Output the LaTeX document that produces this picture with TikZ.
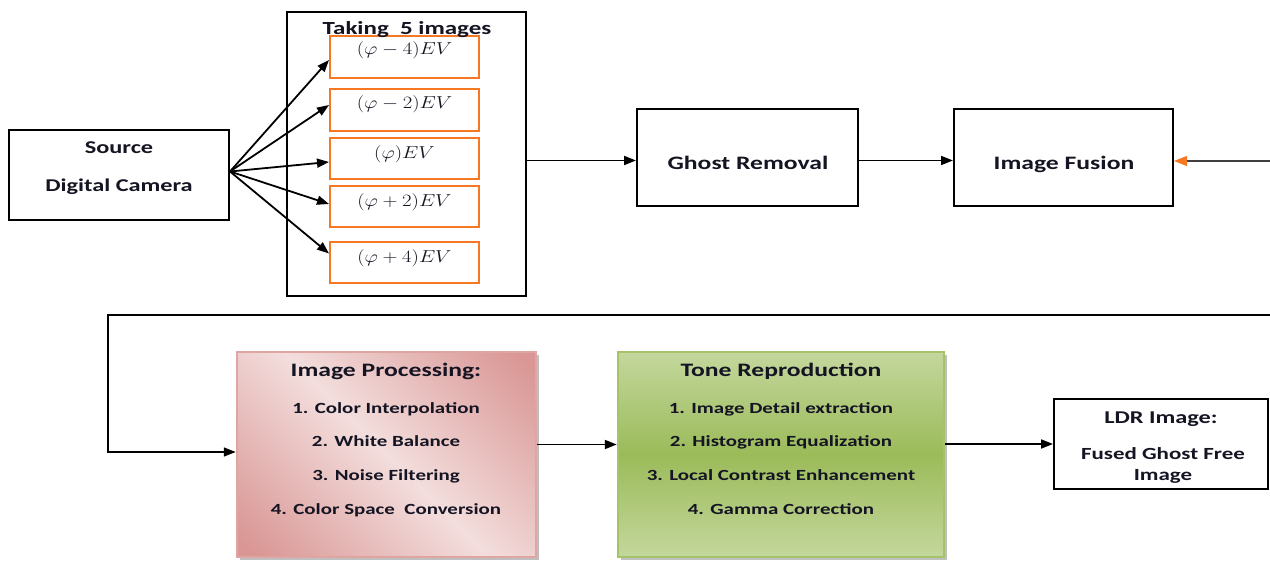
\documentclass[tikz,border=0pt]{standalone}
\usepackage{fontspec}
\usepackage{graphicx}
\newfontfamily\calfont[FakeStretch=1.35]{Carlito}
\usetikzlibrary{arrows.meta,calc}
\definecolor{orng}{RGB}{247,120,35}
\definecolor{pdark}{RGB}{217,150,148}
\definecolor{plight}{RGB}{243,222,221}
\definecolor{pborder}{RGB}{222,165,163}
\definecolor{gdark}{RGB}{155,187,89}
\definecolor{glight}{RGB}{196,215,157}
\definecolor{gborder}{RGB}{165,196,105}
\definecolor{txt}{RGB}{20,20,35}
\pgfdeclarehorizontalshading{pinkrefl}{100bp}{color(0bp)=(pdark); color(17bp)=(pdark); color(50bp)=(plight); color(83bp)=(pdark); color(100bp)=(pdark)}
\tikzset{
  blackbox/.style={draw=black, line width=2pt, fill=white, inner sep=0pt},
  orangebox/.style={draw=orng, line width=2pt, fill=white, inner sep=0pt, minimum width=149pt},
  lbl/.style={font=\calfont\bfseries, text=txt, inner sep=0pt, text height=0.68em, text depth=0.18em, yshift=-4pt},
  mlbl/.style={inner sep=0pt, text=txt, font=\fontsize{16}{18}\selectfont, yshift=-2pt},
  arr/.style={line width=1.8pt, -{Triangle[length=12pt,width=9pt]}},
}
\newcommand{\mth}[1]{\scalebox{1.2}[1]{$#1$}}
\begin{document}
\begin{tikzpicture}[x=1pt,y=-1pt]
\useasboundingbox (0,0) rectangle (1270,561);
% source
\node[blackbox, minimum width=220pt, minimum height=90pt] (src) at (119,175) {};
\node[lbl, font=\calfont\bfseries\fontsize{18}{22}\selectfont] (srct1) at (119,147) {Source};
\node[lbl, font=\calfont\bfseries\fontsize{18}{22}\selectfont] (srct2) at (119,185) {Digital Camera};
% taking box
\node[blackbox, minimum width=239pt, minimum height=284pt] (take) at (406.5,154) {};
% orange boxes
\node[orangebox, minimum height=42pt] (o1) at (404.5,57) {};
\node[orangebox, minimum height=42pt] (o2) at (404.5,110) {};
\node[orangebox, minimum height=41pt] (o3) at (404.5,158.5) {};
\node[orangebox, minimum height=41pt] (o4) at (404.5,206.5) {};
\node[orangebox, minimum height=41pt] (o5) at (404.5,262.5) {};
\node[lbl, font=\calfont\bfseries\fontsize{18.5}{22}\selectfont] (taket) at (407,28) {Taking\ \ 5 images};
\node[mlbl] (m1) at (404.5,48) {\mth{(\varphi-4)EV}};
\node[mlbl] (m2) at (404.5,102) {\mth{(\varphi-2)EV}};
\node[mlbl] (m3) at (404.5,152) {\mth{(\varphi)EV}};
\node[mlbl] (m4) at (404.5,200) {\mth{(\varphi+2)EV}};
\node[mlbl] (m5) at (404.5,256) {\mth{(\varphi+4)EV}};
% arrows from source
\coordinate (s0) at ($(src.east)+(0,3.5pt)$);
\draw[arr] (s0) -- ([yshift=-3pt]o1.west);
\draw[arr] (s0) -- ([yshift=5pt]o2.west);
\draw[arr] (s0) -- ([yshift=-3.5pt]o3.west);
\draw[arr] (s0) -- ([yshift=2.5pt]o4.west);
\draw[arr] (s0) -- ([yshift=9pt]o5.west);
% ghost removal, fusion
\node[blackbox, minimum width=221pt, minimum height=97pt] (ghost) at (747.5,157.5) {};
\node[lbl, font=\calfont\bfseries\fontsize{19}{22}\selectfont] (ghostt) at (748,163) {Ghost Removal};
\node[blackbox, minimum width=219pt, minimum height=97pt] (fus) at (1063.5,157.5) {};
\node[lbl, font=\calfont\bfseries\fontsize{19}{22}\selectfont] (fust) at (1064,163) {Image Fusion};
\draw[arr] ([yshift=-3pt]ghost.west -| take.east) -- ([yshift=-3pt]ghost.west);
\draw[arr] ([yshift=-3pt]ghost.east) -- ([yshift=-3pt]fus.west);
\coordinate (rin) at (1270,161);
\draw[line width=1.4pt, draw=black!75, -{Triangle[length=13pt,width=10pt,color=orng]}] (rin) -- ([yshift=-3.5pt]fus.east);
% return line
\coordinate (rret) at (1270,315);
\coordinate (lc) at (108,315);
% image processing
\fill[black!25] (240,355) rectangle (539,560);
\path[shading=pinkrefl, shading angle=45] (237,352) rectangle (536,557);
\node[draw=pborder, line width=2.5pt, minimum width=299pt, minimum height=205pt, inner sep=0pt] (ip) at (386.5,454.5) {};
\node[lbl, font=\calfont\bfseries\fontsize{19}{22}\selectfont] (ipt) at (386,370) {Image Processing:};
\node[lbl, font=\calfont\bfseries\fontsize{15.5}{18}\selectfont] (ip1) at (386,407) {1. Color Interpolation};
\node[lbl, font=\calfont\bfseries\fontsize{15.5}{18}\selectfont] (ip2) at (386,440) {2. White Balance};
\node[lbl, font=\calfont\bfseries\fontsize{15.5}{18}\selectfont] (ip3) at (386,474) {3. Noise Filtering};
\node[lbl, font=\calfont\bfseries\fontsize{15.5}{18}\selectfont] (ip4) at (386,508) {4. Color Space\ \ Conversion};
% tone reproduction
\fill[black!25] (621,355) rectangle (947,560);
\node[draw=gborder, line width=2.5pt, minimum width=326pt, minimum height=205pt, inner sep=0pt, top color=glight, bottom color=glight, middle color=gdark] (tone) at (781,454.5) {};
\node[lbl, font=\calfont\bfseries\fontsize{19}{22}\selectfont] (tonet) at (781,370) {Tone Reproduction};
\node[lbl, font=\calfont\bfseries\fontsize{15.5}{18}\selectfont] (tone1) at (781,407) {1. Image Detail extraction};
\node[lbl, font=\calfont\bfseries\fontsize{15.5}{18}\selectfont] (tone2) at (781,440) {2. Histogram Equalization};
\node[lbl, font=\calfont\bfseries\fontsize{15.5}{18}\selectfont] (tone3) at (781,474) {3. Local Contrast Enhancement};
\node[lbl, font=\calfont\bfseries\fontsize{15.5}{18}\selectfont] (tone4) at (781,508) {4. Gamma Correction};
% LDR
\node[blackbox, minimum width=214pt, minimum height=90pt] (ldr) at (1161,444) {};
\node[lbl, font=\calfont\bfseries\fontsize{18}{22}\selectfont] (ldrt1) at (1161,417) {LDR Image:};
\node[lbl, font=\calfont\bfseries\fontsize{17}{20}\selectfont] (ldrt2) at (1163,453) {Fused Ghost Free};
\node[lbl, font=\calfont\bfseries\fontsize{17}{20}\selectfont] (ldrt3) at (1163,474) {Image};
% connectors lower
\draw[arr, line width=1.4pt] (rret) -- (lc) |- ([yshift=2.5pt]ip.west);
\draw[arr] ([yshift=10pt]ip.east) -- ([yshift=10pt]tone.west);
\draw[arr] (tone.east |- ldr.west) -- (ldr.west);
\end{tikzpicture}
\end{document}
